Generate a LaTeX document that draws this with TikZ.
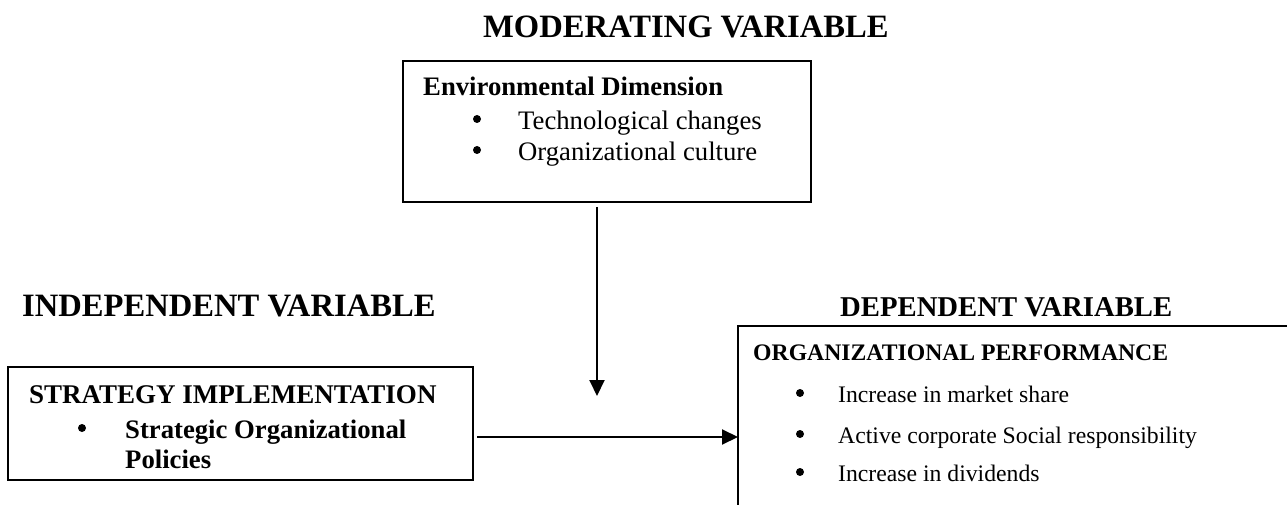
\documentclass[tikz,border=0pt]{standalone}
\usepackage{fontspec}
\setmainfont{Liberation Serif}
\usepackage{tikz}
\usetikzlibrary{positioning,arrows.meta}

\tikzset{
  varbox/.style={draw,line width=2pt,outer sep=0pt,inner sep=0pt,anchor=north west},
  vartitle/.style={anchor=base west,inner sep=0pt,font=\bfseries\fontsize{32.6}{36}\selectfont},
  head/.style={anchor=base west,inner sep=0pt,font=\bfseries\fontsize{26.7}{30}\selectfont},
  item/.style={anchor=base west,inner sep=0pt,font=\fontsize{26.7}{30}\selectfont},
  dephead/.style={anchor=base west,inner sep=0pt,font=\bfseries\fontsize{23.7}{28}\selectfont},
  depitem/.style={anchor=base west,inner sep=0pt,font=\fontsize{23.7}{28}\selectfont},
  dot/.style={circle,fill,inner sep=0pt,minimum size=8pt},
  arr/.style={line width=2pt,-{Triangle[length=16pt,width=15pt]}}
}

\begin{document}
\begin{tikzpicture}[x=1pt,y=-1pt]
	\useasboundingbox (0,0) rectangle (1287,505);
	% titles
	\node[vartitle] (modtitle) at (483,38) {MODERATING VARIABLE};
	\node[vartitle] (indtitle) at (22,316) {INDEPENDENT VARIABLE};
	\node[vartitle,font=\bfseries\fontsize{28.7}{32}\selectfont] (deptitle) at (840,316) {DEPENDENT VARIABLE};
	% moderating variable
	\node[varbox,minimum width=408pt,minimum height=141pt] (moder) at (403,61) {};
	\node[head] (envhead) at (423,96) {Environmental Dimension};
	\node[dot] (envdot1) at (477,119) {};
	\node[item] (env1) at (518,130) {Technological changes};
	\node[dot] (envdot2) at (477,150) {};
	\node[item] (env2) at (518,161) {Organizational culture};
	% independent variable
	\node[varbox,minimum width=465pt,minimum height=113pt] (strat) at (8,367) {};
	\node[head,font=\bfseries\fontsize{27}{30}\selectfont] (strathead) at (29,403) {STRATEGY IMPLEMENTATION};
	\node[dot] (stratdot) at (82,428) {};
	\node[head] (strat1) at (125,438) {Strategic Organizational};
	\node[head] (strat2) at (125,468) {Policies};
	% dependent variable (runs off the page)
	\begin{scope}
		\clip (0,0) rectangle (1287,505);
		\node[varbox,minimum width=600pt,minimum height=250pt] (dep) at (738,326) {};
	\end{scope}
	\node[dephead] (dephd) at (753,360) {ORGANIZATIONAL PERFORMANCE};
	\node[dot] (depdot1) at (800,393) {};
	\node[depitem] (dep1) at (838,402) {Increase in market share};
	\node[dot] (depdot2) at (800,434) {};
	\node[depitem] (dep2) at (838,443) {Active corporate Social responsibility};
	\node[dot] (depdot3) at (800,472) {};
	\node[depitem] (dep3) at (838,481) {Increase in dividends};
	% arrows
	\coordinate (modtip) at (597,396);
	\coordinate (arrline) at (0,437);
	\draw[arr,shorten <=5pt] (moder.south -| modtip) -- (modtip);
	\draw[arr,shorten <=4pt] (strat.east |- arrline) -- (dep.west |- arrline);
\end{tikzpicture}
\end{document}
